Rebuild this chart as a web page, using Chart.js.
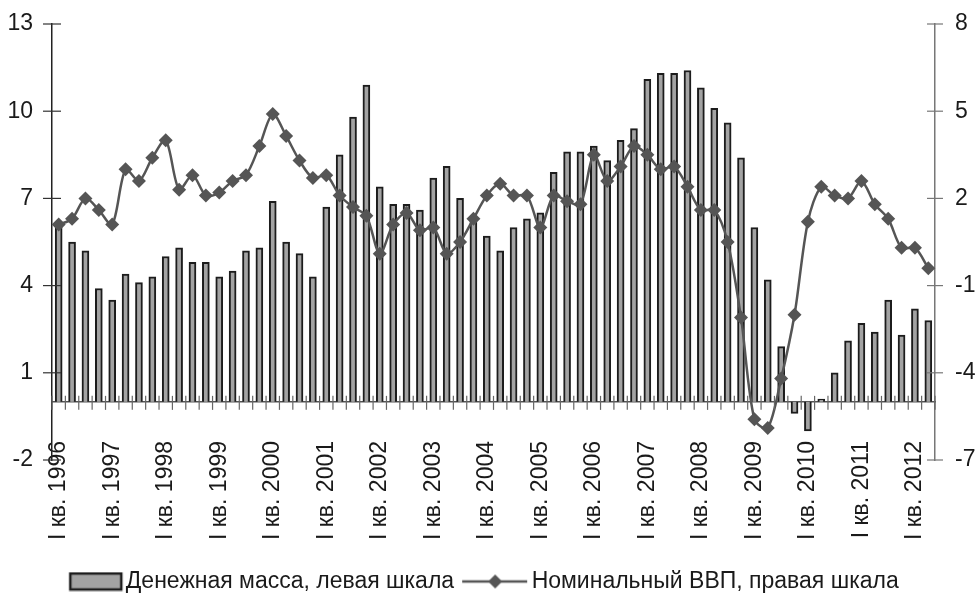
<!DOCTYPE html>
<html lang="ru">
<head>
    <meta charset="UTF-8">
    <title>Денежная масса и номинальный ВВП</title>
    <style>
        html, body {
            margin: 0;
            padding: 0;
            background: #ffffff;
        }
        #wrap {
            width: 977px;
            height: 593px;
        }
    </style>
    <script src="https://cdn.jsdelivr.net/npm/chart.js"></script>
</head>
<body>
    <div id="wrap"><canvas id="myChart"></canvas></div>

    <script>
        // quarters 1996 I .. 2012 II
        const years = [1996, 1997, 1998, 1999, 2000, 2001, 2002, 2003, 2004, 2005, 2006, 2007, 2008, 2009, 2010, 2011, 2012];
        const quarters = ['I', 'II', 'III', 'IV'];

        const moneySupply = [
            6.1, 5.5, 5.2, 3.9, 3.5, 4.4, 4.1, 4.3, 5.0, 5.3,
            4.8, 4.8, 4.3, 4.5, 5.2, 5.3, 6.9, 5.5, 5.1, 4.3,
            6.7, 8.5, 9.8, 10.9, 7.4, 6.8, 6.8, 6.6, 7.7, 8.1,
            7.0, 6.3, 5.7, 5.2, 6.0, 6.3, 6.5, 7.9, 8.6, 8.6,
            8.8, 8.3, 9.0, 9.4, 11.1, 11.3, 11.3, 11.4, 10.8, 10.1,
            9.6, 8.4, 6.0, 4.2, 1.9, -0.4, -1.0, 0.1, 1.0, 2.1,
            2.7, 2.4, 3.5, 2.3, 3.2, 2.8
        ];
        const nominalGdp = [
            1.1, 1.3, 2.0, 1.6, 1.1, 3.0, 2.6, 3.4, 4.0, 2.3,
            2.8, 2.1, 2.2, 2.6, 2.8, 3.8, 4.9, 4.15, 3.3, 2.7,
            2.8, 2.1, 1.7, 1.4, 0.1, 1.1, 1.5, 0.9, 1.0, 0.1,
            0.5, 1.3, 2.1, 2.5, 2.1, 2.1, 1.0, 2.1, 1.9, 1.8,
            3.5, 2.6, 3.1, 3.8, 3.5, 3.0, 3.1, 2.4, 1.6, 1.6,
            0.5, -2.1, -5.6, -5.9, -4.2, -2.0, 1.2, 2.4, 2.1, 2.0,
            2.6, 1.8, 1.3, 0.3, 0.3, -0.4
        ];
        const seriesNames = ['Денежная масса, левая шкала', 'Номинальный ВВП, правая шкала'];
        const leftTicks = { min: -2, max: 13, step: 3 };
        const rightTicks = { min: -7, max: 8, step: 3 };

        const labels = [];
        years.forEach(y => quarters.forEach(q => labels.push(q + ' кв. ' + y)));
        labels.length = moneySupply.length;

        const barFill = '#a3a3a3';
        const barEdge = '#1c1c1c';
        const lineColor = '#555555';
        const textColor = '#1a1a1a';

        Chart.defaults.font.family = '"Liberation Sans", Arial, sans-serif';
        Chart.defaults.font.size = 23;
        Chart.defaults.color = textColor;

        // legend pictures (wider than the legend box so they sit close to the text)
        function makeIcon(kind) {
            const c = document.createElement('canvas');
            c.width = 80;
            c.height = 20;
            const g = c.getContext('2d');
            if (kind === 'bar') {
                g.fillStyle = barFill;
                g.strokeStyle = barEdge;
                g.lineWidth = 2.5;
                g.fillRect(18, 2, 51, 16);
                g.strokeRect(18, 2, 51, 16);
            } else {
                g.strokeStyle = lineColor;
                g.lineWidth = 2.5;
                g.beginPath();
                g.moveTo(4, 10);
                g.lineTo(69, 10);
                g.stroke();
                g.fillStyle = lineColor;
                g.beginPath();
                g.moveTo(37, 3);
                g.lineTo(44, 10);
                g.lineTo(37, 17);
                g.lineTo(30, 10);
                g.closePath();
                g.fill();
            }
            return c;
        }
        const icons = [makeIcon('bar'), makeIcon('line')];

        // axis ticks that cross the axis lines; x labels start inside the plot
        const crossTicks = {
            id: 'crossTicks',
            afterLayout(chart) {
                const x = chart.scales.x;
                x.top = chart.chartArea.bottom - 19;
                chart.legend.left -= 4;
                chart.legend.right -= 4;
            },
            afterDraw(chart) {
                const ctx = chart.ctx;
                const yl = chart.scales.y;
                const yr = chart.scales.y1;
                const x = chart.scales.x;
                ctx.save();
                ctx.lineWidth = 1.2;
                ctx.strokeStyle = '#333';
                yl.ticks.forEach((t, i) => {
                    const py = yl.getPixelForTick(i);
                    ctx.beginPath();
                    ctx.moveTo(yl.right - 9, py);
                    ctx.lineTo(yl.right + 9, py);
                    ctx.stroke();
                });
                ctx.strokeStyle = '#777';
                yr.ticks.forEach((t, i) => {
                    const py = yr.getPixelForTick(i);
                    ctx.beginPath();
                    ctx.moveTo(yr.left - 8, py);
                    ctx.lineTo(yr.left + 8, py);
                    ctx.stroke();
                });
                const zero = yl.getPixelForValue(0);
                const n = labels.length;
                const w = x.width / n;
                ctx.strokeStyle = '#666';
                for (let k = 0; k <= n; k++) {
                    const px = x.left + k * w;
                    ctx.beginPath();
                    ctx.moveTo(px, zero - 6);
                    ctx.lineTo(px, zero + 8);
                    ctx.stroke();
                }
                ctx.restore();
            }
        };

        const ctx = document.getElementById('myChart').getContext('2d');
        const myChart = new Chart(ctx, {
            data: {
                labels: labels,
                datasets: [{
                    type: 'line',
                    label: seriesNames[1],
                    data: nominalGdp,
                    yAxisID: 'y1',
                    borderColor: lineColor,
                    backgroundColor: lineColor,
                    borderWidth: 2.5,
                    tension: 0.3,
                    pointStyle: 'rectRot',
                    pointRadius: 7,
                    pointBorderWidth: 0,
                    pointBackgroundColor: lineColor,
                    order: 0
                }, {
                    type: 'bar',
                    label: seriesNames[0],
                    data: moneySupply,
                    yAxisID: 'y',
                    backgroundColor: barFill,
                    borderColor: barEdge,
                    borderWidth: 2,
                    barThickness: 7,
                    order: 1
                }]
            },
            options: {
                responsive: true,
                maintainAspectRatio: false,
                animation: false,
                layout: {
                    padding: { top: 0, left: 0, right: 0, bottom: -10 }
                },
                plugins: {
                    tooltip: { enabled: false },
                    legend: {
                        position: 'bottom',
                        labels: {
                            usePointStyle: true,
                            pointStyleWidth: 44,
                            boxHeight: 20,
                            padding: 22,
                            color: textColor,
                            font: { size: 23 },
                            generateLabels: () => [0, 1].map(i => ({
                                text: seriesNames[i],
                                pointStyle: icons[i],
                                fillStyle: 'transparent',
                                strokeStyle: 'transparent',
                                lineWidth: 0,
                                hidden: false,
                                fontColor: textColor,
                                datasetIndex: i
                            }))
                        }
                    }
                },
                scales: {
                    x: {
                        type: 'category',
                        offset: true,
                        grid: { display: false, drawTicks: false },
                        border: { display: false },
                        ticks: {
                            autoSkip: false,
                            minRotation: 90,
                            maxRotation: 90,
                            padding: 0,
                            color: textColor,
                            callback: function (value, index) {
                                return index % 4 === 0 ? labels[index] : '';
                            }
                        },
                        afterFit: function (scale) {
                            scale.height = 88;
                            scale.paddingLeft = 0;
                            scale.paddingRight = 0;
                        }
                    },
                    xZero: {
                        type: 'category',
                        position: { y: 0 },
                        offset: true,
                        grid: { display: false, drawTicks: false },
                        border: { display: true, color: '#555', width: 1.5 },
                        ticks: { display: false }
                    },
                    y: {
                        position: 'left',
                        min: leftTicks.min,
                        max: leftTicks.max,
                        grid: { display: false, drawTicks: false },
                        border: { display: true, color: '#222', width: 1.5 },
                        ticks: { stepSize: leftTicks.step, padding: 19, color: textColor },
                        afterFit: function (scale) {
                            scale.width = 52;
                            scale.paddingTop = 24;
                            scale.paddingBottom = 0;
                        }
                    },
                    y1: {
                        position: 'right',
                        min: rightTicks.min,
                        max: rightTicks.max,
                        grid: { display: false, drawTicks: false },
                        border: { display: true, color: '#777', width: 1.5 },
                        ticks: { stepSize: rightTicks.step, padding: 20, color: textColor },
                        afterFit: function (scale) {
                            scale.width = 42;
                            scale.paddingTop = 24;
                            scale.paddingBottom = 0;
                        }
                    }
                }
            },
            plugins: [crossTicks]
        });
    </script>
</body>
</html>
